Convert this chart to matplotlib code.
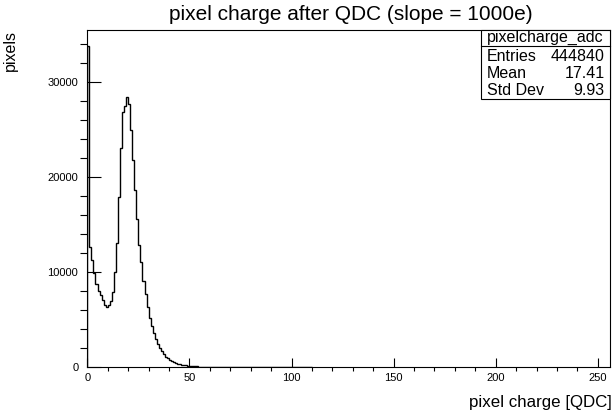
import numpy as np
import matplotlib
matplotlib.use('Agg')
import matplotlib.pyplot as plt
from matplotlib.patches import Rectangle
from matplotlib.ticker import MultipleLocator

plt.rcParams['font.family'] = ['Liberation Sans', 'DejaVu Sans']

# bin contents, one per QDC unit starting at 0
counts = [33800, 12600, 11300, 9900, 8700, 8000, 7600, 7000, 6500, 6300,
          6500, 6900, 7900, 10000, 13000, 17900, 23000, 26800, 27500, 28400,
          27700, 24900, 21800, 18600, 15600, 12800, 11000, 9000, 7700, 6300,
          5200, 4300, 3600, 2900, 2400, 2000, 1650, 1350, 1100, 900,
          750, 620, 510, 420, 350, 290, 240, 200, 165, 135,
          110, 90, 75, 62, 51, 42, 35, 29, 24, 20,
          17, 14, 12, 10, 9, 8, 7, 6, 5, 5,
          4, 4, 3, 3, 3, 2, 2, 2, 2, 1,
          1, 1, 1, 1, 1, 1, 1, 1, 1, 1,
          1, 1, 1, 1, 1, 1, 1, 1, 1, 1,
          1, 1, 1, 1, 1, 1, 1, 1, 1, 1]
edges = np.arange(len(counts) + 1)

title = "pixel charge after QDC (slope = 1000e)"
stat_name = "pixelcharge_adc"
stat_labels = ["Entries", "Mean", "Std Dev"]
stat_values = ["444840", "17.41", "9.93"]

fig = plt.figure(figsize=(6.15, 4.13), dpi=100)
ax = fig.add_axes([0.142, 0.1114, 0.850, 0.817])

ax.stairs(counts, edges, color='black', linewidth=1.0)
ax.set_xlim(0, 256)
ax.set_ylim(0, max(counts) * 1.05)

ax.xaxis.set_major_locator(MultipleLocator(50))
ax.xaxis.set_minor_locator(MultipleLocator(10))
ax.yaxis.set_major_locator(MultipleLocator(10000))
ax.yaxis.set_minor_locator(MultipleLocator(2000))
ax.tick_params(direction='in', top=False, right=False, labelsize=8, colors='black')
ax.xaxis.set_tick_params(which='major', length=6.5, width=0.8, pad=4)
ax.xaxis.set_tick_params(which='minor', length=3.2, width=0.8)
ax.yaxis.set_tick_params(which='major', length=10, width=0.8, pad=6.5)
ax.yaxis.set_tick_params(which='minor', length=5, width=0.8)
for s in ax.spines.values():
    s.set_linewidth(0.8)

ax.text(1.003, -0.104, "pixel charge [QDC]", transform=ax.transAxes,
        ha='right', va='center', fontsize=12.2)
ax.text(-0.148, 1.0, "pixels", transform=ax.transAxes, rotation=90,
        ha='center', va='top', fontsize=11.5)
fig.text(533 / 615, 1 - 14 / 413, title, ha='right', va='center', fontsize=15)

# stats box
bx0, bx1, by0, by1 = 0.753, 1.0, 0.794, 1.0
ax.add_patch(Rectangle((bx0, by0), bx1 - bx0, by1 - by0, transform=ax.transAxes,
                       facecolor='white', edgecolor='black', linewidth=0.8,
                       zorder=5, clip_on=False))
ax.plot([bx0, bx1], [0.951, 0.951], transform=ax.transAxes, color='black',
        linewidth=0.8, zorder=6, clip_on=False)
ax.text((bx0 + bx1) / 2, 0.976, stat_name, transform=ax.transAxes,
        ha='center', va='center', fontsize=11.5, zorder=7)
for i, (lab, val) in enumerate(zip(stat_labels, stat_values)):
    y = 0.920 - i * 0.051
    ax.text(0.765, y, lab, transform=ax.transAxes, ha='left', va='center',
            fontsize=11.5, zorder=7)
    ax.text(0.990, y, val, transform=ax.transAxes, ha='right', va='center',
            fontsize=11.5, zorder=7)

fig.savefig('out.png', dpi=100)
